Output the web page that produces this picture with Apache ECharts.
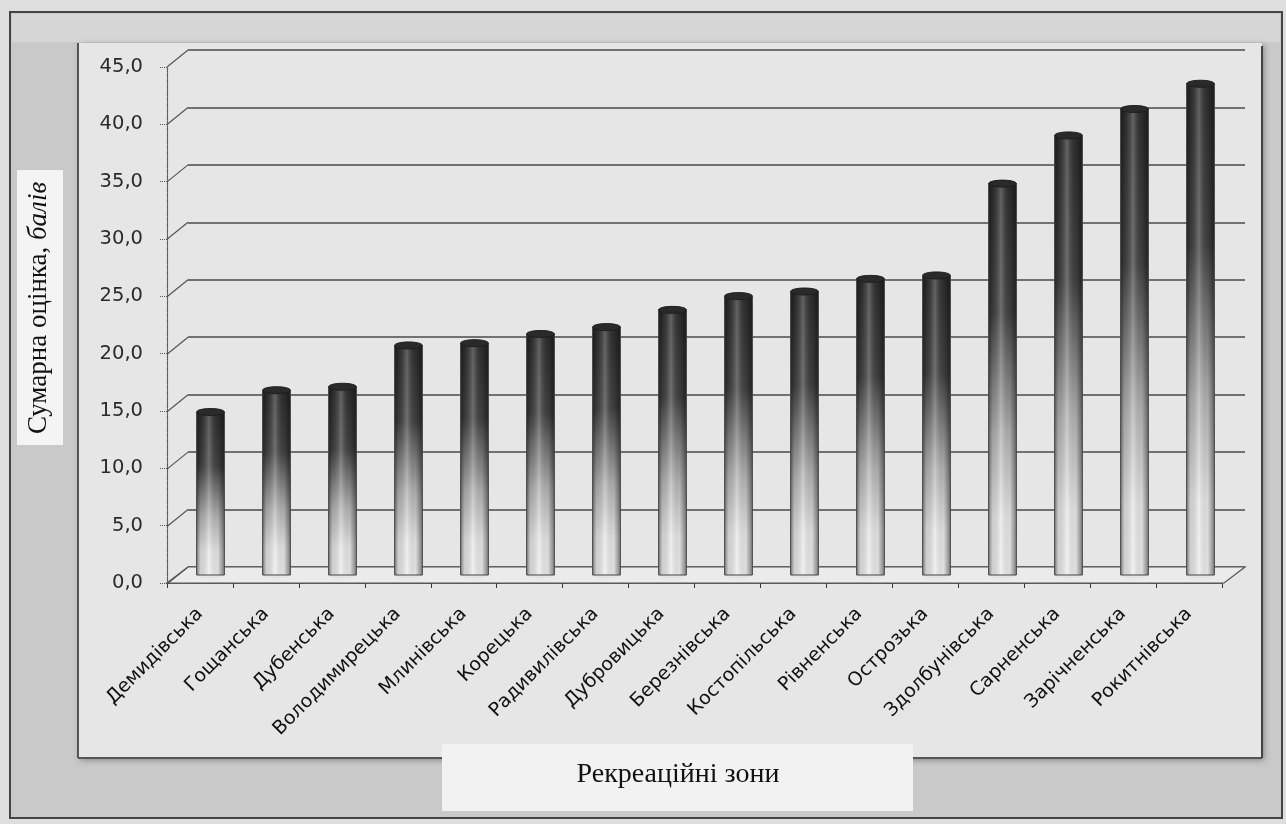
<!DOCTYPE html>
<html>
<head>
<meta charset="utf-8">
<title>Рекреаційні зони</title>
<script src="https://cdn.jsdelivr.net/npm/echarts@6/dist/echarts.min.js"></script>
<style>
  html, body { margin: 0; padding: 0; background: #dedede; }
  #chart { width: 1286px; height: 824px; }
</style>
</head>
<body>
<div id="chart"></div>
<script>
// recreation zones and their total scores
const zones = ['Демидівська', 'Гощанська', 'Дубенська', 'Володимирецька', 'Млинівська', 'Корецька',
  'Радивилівська', 'Дубровицька', 'Березнівська', 'Костопільська', 'Рівненська', 'Острозька',
  'Здолбунівська', 'Сарненська', 'Зарічненська', 'Рокитнівська'];
const scores = [14.2, 16.1, 16.4, 20.0, 20.2, 21.0, 21.6, 23.1, 24.3, 24.7, 25.8, 26.1, 34.1, 38.3, 40.6, 42.8];
const yTicks = [0, 5, 10, 15, 20, 25, 30, 35, 40, 45];

const yTitle = 'Сумарна оцінка, ';
const yTitleUnit = 'балів';
const xTitle = 'Рекреаційні зони';

// fake 3d depth: back wall is shifted right/up relative to the front axes
const DX = 21;
const DY = 17;

const chart = echarts.init(document.getElementById('chart'));

const fmt = (v) => v.toFixed(1).replace('.', ',');

function renderConnector(params, api) {
  const y = api.coord([0, api.value(1)])[1];
  const x0 = params.coordSys.x;
  return {
    type: 'line',
    shape: { x1: x0, y1: y, x2: x0 - DX, y2: y + DY },
    style: { stroke: '#555', lineWidth: 1.2 },
  };
}

function renderFloor(params, api) {
  const cs = params.coordSys;
  const y = api.coord([0, 0])[1];
  return {
    type: 'polygon',
    shape: {
      points: [[cs.x, y], [cs.x + cs.width, y], [cs.x + cs.width - DX, y + DY - 1], [cs.x - DX, y + DY - 1]],
    },
    style: { fill: '#ebebeb', stroke: '#555', lineWidth: 1.2 },
  };
}

function renderCylinder(params, api) {
  const base = api.coord([api.value(0), 0]);
  const top = api.coord([api.value(0), api.value(1)]);
  const w = api.size([1, 0])[0] * 0.42;
  const rx = w / 2;
  const ry = 3.5;
  const x = base[0] - rx;
  const h = base[1] - top[1];
  return {
    type: 'group',
    children: [
      {
        type: 'ellipse',
        shape: { cx: base[0], cy: base[1], rx: rx, ry: ry },
        style: { fill: '#e4e4e4' },
      },
      {
        type: 'rect',
        shape: { x: x, y: top[1], width: w, height: h },
        style: {
          fill: new echarts.graphic.LinearGradient(0, 0, 0, 1, [
            { offset: 0, color: '#2e2e2e' },
            { offset: 0.33, color: '#424242' },
            { offset: 0.64, color: '#b4b4b4' },
            { offset: 0.85, color: '#e8e8e8' },
            { offset: 1, color: '#eeeeee' },
          ]),
        },
      },
      {
        type: 'rect',
        shape: { x: x, y: top[1], width: w, height: h },
        style: {
          fill: new echarts.graphic.LinearGradient(0, 0, 1, 0, [
            { offset: 0, color: 'rgba(0,0,0,0.5)' },
            { offset: 0.15, color: 'rgba(0,0,0,0.12)' },
            { offset: 0.45, color: 'rgba(255,255,255,0.25)' },
            { offset: 0.75, color: 'rgba(0,0,0,0.06)' },
            { offset: 1, color: 'rgba(0,0,0,0.5)' },
          ]),
          stroke: '#444',
          lineWidth: 1,
        },
      },
      {
        type: 'ellipse',
        shape: { cx: top[0], cy: top[1], rx: rx, ry: ry },
        style: { fill: '#2a2a2a', stroke: '#1e1e1e', lineWidth: 1 },
      },
    ],
  };
}

const option = {
  backgroundColor: '#dedede',
  animation: false,
  graphic: [
    // chart area frame and plot panel
    { type: 'rect', z: -20, shape: { x: 10, y: 12, width: 1272, height: 806 }, style: { fill: '#c9c9c9', stroke: '#444', lineWidth: 2 } },
    { type: 'rect', z: -19, shape: { x: 12, y: 14, width: 1268, height: 28 }, style: { fill: '#d6d6d6' } },
    { type: 'rect', z: -18, shape: { x: 78, y: 43, width: 1184, height: 715 }, style: { fill: '#e6e6e6', shadowBlur: 6, shadowColor: 'rgba(0,0,0,0.35)', shadowOffsetX: 2, shadowOffsetY: 2 } },
    { type: 'line', z: -17, shape: { x1: 78, y1: 43, x2: 78, y2: 758 }, style: { stroke: '#555', lineWidth: 2 } },
    { type: 'line', z: -17, shape: { x1: 78, y1: 758, x2: 1262, y2: 758 }, style: { stroke: '#555', lineWidth: 2 } },
    { type: 'line', z: -17, shape: { x1: 1262, y1: 46, x2: 1262, y2: 758 }, style: { stroke: '#444', lineWidth: 2 } },
    // axis titles
    { type: 'rect', z: 5, shape: { x: 17, y: 170, width: 46, height: 275 }, style: { fill: '#f4f4f4' } },
    {
      type: 'text', z: 6, x: 39, y: 308, rotation: Math.PI / 2,
      style: {
        text: '{n|' + yTitle + '}{i|' + yTitleUnit + '}',
        align: 'center', verticalAlign: 'middle',
        rich: {
          n: { fontFamily: 'Liberation Serif', fontSize: 27, fill: '#111' },
          i: { fontFamily: 'Liberation Serif', fontSize: 27, fontStyle: 'italic', fill: '#111' },
        },
      },
    },
    { type: 'rect', z: 5, shape: { x: 442, y: 744, width: 471, height: 67 }, style: { fill: '#f2f2f2' } },
    {
      type: 'text', z: 6, x: 678, y: 775,
      style: { text: xTitle, align: 'center', verticalAlign: 'middle', fontFamily: 'Liberation Serif', fontSize: 28, fill: '#111' },
    },
  ],
  grid: [
    { left: 188, right: 41, top: 50, bottom: 257 },   // back wall
    { left: 167, right: 64, top: 67, bottom: 241 },   // front axes
    { left: 177.5, right: 52.5, top: 58.5, bottom: 249 }, // bars at mid depth
  ],
  xAxis: [
    { gridIndex: 0, type: 'category', data: zones, show: false },
    {
      gridIndex: 1,
      type: 'category',
      data: zones,
      axisLine: { lineStyle: { color: '#333', width: 1.5 } },
      axisTick: { show: true, length: 5, lineStyle: { color: '#333' } },
      axisLabel: { rotate: 45, interval: 0, margin: 28, fontFamily: 'DejaVu Sans', fontSize: 19, color: '#111' },
    },
    { gridIndex: 2, type: 'category', data: zones, show: false },
  ],
  yAxis: [
    {
      gridIndex: 0, type: 'value', min: 0, max: 45, interval: 5,
      axisLabel: { show: false }, axisLine: { show: false }, axisTick: { show: false },
      splitLine: { lineStyle: { color: '#4a4a4a', width: 1.6 } },
    },
    {
      gridIndex: 1, type: 'value', min: 0, max: 45, interval: 5,
      splitLine: { show: false },
      axisLine: { show: true, lineStyle: { type: 'dotted', color: '#555', width: 1.2 } },
      axisTick: { show: true, length: 8, lineStyle: { type: 'dotted', color: '#555' } },
      axisLabel: { formatter: fmt, margin: 24, fontFamily: 'DejaVu Sans', fontSize: 19.5, color: '#2a2a2a' },
    },
    { gridIndex: 2, type: 'value', min: 0, max: 45, interval: 5, show: false },
  ],
  series: [
    {
      type: 'custom', xAxisIndex: 0, yAxisIndex: 0, z: 1,
      data: [[0, 0]],
      renderItem: renderFloor,
    },
    {
      type: 'custom', xAxisIndex: 0, yAxisIndex: 0, z: 1,
      data: yTicks.map((v) => [0, v]),
      renderItem: renderConnector,
    },
    {
      type: 'custom', xAxisIndex: 2, yAxisIndex: 2, z: 3,
      data: scores.map((v, i) => [i, v]),
      encode: { x: 0, y: 1 },
      renderItem: renderCylinder,
    },
  ],
};

chart.setOption(option);
</script>
</body>
</html>
